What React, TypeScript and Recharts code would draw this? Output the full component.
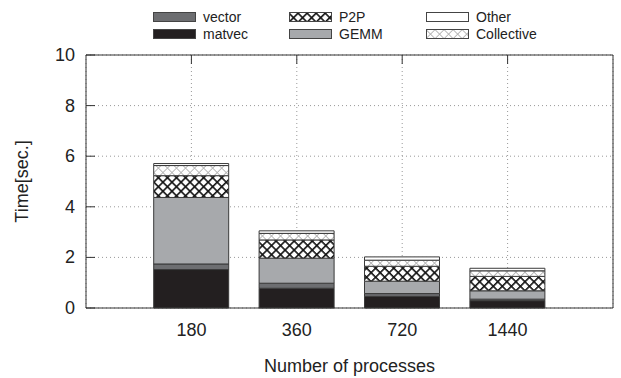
import { Bar, BarChart, CartesianGrid, Legend, XAxis, YAxis } from "recharts";

const FONT = "'Liberation Sans', Arial, sans-serif";

const processes = ["180", "360", "720", "1440"];
const matvec = [1.52, 0.78, 0.46, 0.29];
const vector = [0.22, 0.2, 0.11, 0.06];
const gemm = [2.63, 0.99, 0.49, 0.33];
const p2p = [0.86, 0.72, 0.59, 0.57];
const collective = [0.4, 0.26, 0.24, 0.22];
const other = [0.08, 0.1, 0.13, 0.1];
const yTicks = [0, 2, 4, 6, 8, 10];

// stacking order, bottom to top
const SERIES = [
  { key: "matvec", fill: "#231f20" },
  { key: "vector", fill: "#6d6e71" },
  { key: "GEMM", fill: "#a7a9ac" },
  { key: "P2P", fill: "url(#pat-p2p)" },
  { key: "Collective", fill: "url(#pat-coll)" },
  { key: "Other", fill: "#ffffff" },
];

// legend grid: [column][row]
const LEGEND_COLUMNS = [
  ["vector", "matvec"],
  ["P2P", "GEMM"],
  ["Other", "Collective"],
];

const data = processes.map((p, i) => ({
  procs: p,
  matvec: matvec[i],
  vector: vector[i],
  GEMM: gemm[i],
  P2P: p2p[i],
  Collective: collective[i],
  Other: other[i],
}));

const fillOf = (key: string) => SERIES.find((s) => s.key === key)!.fill;

function LegendBox() {
  const colX = [153, 289, 426];
  return (
    <div style={{ position: "relative", width: 621, height: 45, fontFamily: FONT, fontSize: 14, color: "#222" }}>
      {LEGEND_COLUMNS.map((col, ci) =>
        col.map((key, ri) => (
          <div
            key={key}
            style={{ position: "absolute", left: colX[ci], top: 9 + ri * 17, height: 16, display: "flex", alignItems: "center" }}
          >
            <svg width={43} height={10} style={{ display: "block" }}>
              <rect x={0.5} y={0.5} width={42} height={9} fill={fillOf(key)} stroke="#444" strokeWidth={1} />
            </svg>
            <span style={{ marginLeft: 7, lineHeight: "16px" }}>{key}</span>
          </div>
        )),
      )}
    </div>
  );
}

function LeftTick(props: any) {
  const { x, y, payload } = props;
  return (
    <g>
      <line x1={x} y1={y} x2={x + 9} y2={y} stroke="#333" />
      <text x={x - 11} y={y} dy={6} textAnchor="end" fontSize={18} fontFamily={FONT} fill="#222">
        {payload.value}
      </text>
    </g>
  );
}

function RightTick(props: any) {
  const { x, y } = props;
  return <line x1={x} y1={y} x2={x - 9} y2={y} stroke="#333" />;
}

function TopTick(props: any) {
  const { x, y } = props;
  return <line x1={x} y1={y} x2={x} y2={y + 9} stroke="#333" />;
}

function BottomTick(props: any) {
  const { x, y, payload } = props;
  return (
    <text x={x} y={y} dy={28} textAnchor="middle" fontSize={18} fontFamily={FONT} fill="#222">
      {payload.value}
    </text>
  );
}

export default function App() {
  return (
    <div style={{ position: "absolute", left: 0, top: 0, width: 621, height: 378, background: "#fff" }}>
      <BarChart width={621} height={378} data={data} margin={{ top: 54, right: 7, bottom: 30, left: 46 }} barCategoryGap={0}>
        <defs>
          <pattern id="pat-p2p" width={6.4} height={6.4} patternUnits="userSpaceOnUse" patternTransform="rotate(45)">
            <rect width={6.4} height={6.4} fill="#fff" />
            <line x1={0} y1={0} x2={6.4} y2={0} stroke="#111" strokeWidth={3.2} />
            <line x1={0} y1={0} x2={0} y2={6.4} stroke="#111" strokeWidth={3.2} />
          </pattern>
          <pattern id="pat-coll" width={6.4} height={6.4} patternUnits="userSpaceOnUse" patternTransform="rotate(45)">
            <rect width={6.4} height={6.4} fill="#fff" />
            <line x1={0} y1={0} x2={6.4} y2={0} stroke="#b4b4b4" strokeWidth={1.8} />
            <line x1={0} y1={0} x2={0} y2={6.4} stroke="#b4b4b4" strokeWidth={1.8} />
          </pattern>
        </defs>
        <CartesianGrid stroke="#999" strokeDasharray="1 3" />
        <XAxis
          dataKey="procs"
          height={40}
          padding={{ left: 52.7, right: 52.7 }}
          axisLine={{ stroke: "#333" }}
          tickLine={false}
          tickSize={0}
          tickMargin={0}
          tick={<BottomTick />}
          label={{ value: "Number of processes", position: "insideBottom", offset: -24, fontSize: 18, fontFamily: FONT, fill: "#222" }}
        />
        <XAxis
          xAxisId="top"
          orientation="top"
          dataKey="procs"
          height={1}
          padding={{ left: 52.7, right: 52.7 }}
          axisLine={{ stroke: "#333" }}
          tickLine={false}
          tickSize={0}
          tickMargin={0}
          tick={<TopTick />}
        />
        <YAxis
          domain={[0, 10]}
          ticks={yTicks}
          width={40}
          axisLine={{ stroke: "#333" }}
          tickLine={false}
          tickSize={0}
          tickMargin={0}
          tick={<LeftTick />}
          label={{ value: "Time[sec.]", angle: -90, position: "insideLeft", offset: -24, fontSize: 18, fontFamily: FONT, fill: "#222", style: { textAnchor: "middle" } }}
        />
        <YAxis
          yAxisId="right"
          orientation="right"
          domain={[0, 10]}
          ticks={yTicks}
          width={1}
          axisLine={{ stroke: "#333" }}
          tickLine={false}
          tickSize={0}
          tickMargin={0}
          tick={<RightTick />}
        />
        <Legend layout="horizontal" verticalAlign="middle" align="center" wrapperStyle={{ top: 0, left: 0, width: 621, height: 45 }} content={() => <LegendBox />} />
        {SERIES.map((s) => (
          <Bar key={s.key} dataKey={s.key} stackId="t" fill={s.fill} stroke="#3a3a3a" strokeWidth={1} barSize={75} isAnimationActive={false} />
        ))}
      </BarChart>
    </div>
  );
}
